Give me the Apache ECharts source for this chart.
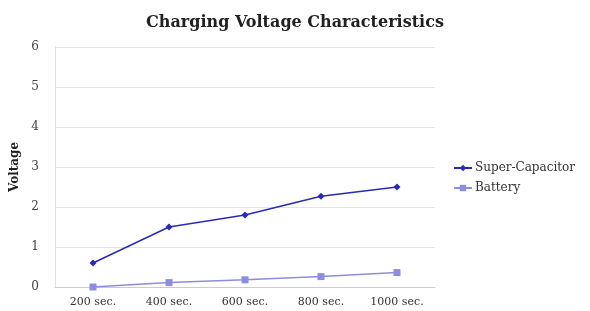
<!DOCTYPE html>
<html>
<head>
<meta charset="utf-8">
<script src="https://cdn.jsdelivr.net/npm/echarts@6/dist/echarts.min.js"></script>
<style>
html, body { margin: 0; padding: 0; background: #fff; }
#main { width: 590px; height: 311px; }
</style>
</head>
<body>
<div id="main"></div>
<script>
// categories and values
var categories = ['200 sec.', '400 sec.', '600 sec.', '800 sec.', '1000 sec.'];
var superCap = [0.6, 1.5, 1.8, 2.27, 2.5];
var battery = [0, 0.11, 0.18, 0.26, 0.36];
var yTicks = [0, 1, 2, 3, 4, 5, 6];

var serif = '"DejaVu Serif", "Liberation Serif", serif';

var chart = echarts.init(document.getElementById('main'));
chart.setOption({
    animation: false,
    title: {
        text: 'Charging Voltage Characteristics',
        left: 'center',
        top: 10,
        textStyle: { fontFamily: serif, fontSize: 16, fontWeight: 'bold', color: '#222' }
    },
    legend: {
        orient: 'vertical',
        left: 448,
        top: 157,
        itemGap: 8,
        itemWidth: 18,
        itemHeight: 8,
        itemGap: 8,
        textStyle: { fontFamily: serif, fontSize: 12, color: '#333', padding: [0, 0, 0, -2] },
        data: ['Super-Capacitor', 'Battery']
    },
    grid: { left: 55, right: 155, top: 47, bottom: 24 },
    xAxis: {
        type: 'category',
        data: categories,
        axisLine: { lineStyle: { color: '#ccc' } },
        axisTick: { show: false },
        axisLabel: { fontFamily: serif, fontSize: 11, color: '#333', margin: 10 }
    },
    yAxis: {
        type: 'value',
        min: yTicks[0],
        max: yTicks[yTicks.length - 1],
        interval: 1,
        name: 'Voltage',
        nameLocation: 'middle',
        nameGap: 34,
        nameTextStyle: { fontFamily: serif, fontSize: 12, fontWeight: 'bold', color: '#222' },
        axisLine: { show: true, lineStyle: { color: '#ddd' } },
        axisTick: { show: false },
        splitLine: { lineStyle: { color: '#e4e4e4' } },
        axisLabel: { fontFamily: serif, fontSize: 12, color: '#444', margin: 16 }
    },
    series: [{
        name: 'Super-Capacitor',
        type: 'line',
        data: superCap,
        symbol: 'diamond',
        symbolSize: 7,
        lineStyle: { color: '#2a2ab8', width: 1.5 },
        itemStyle: { color: '#2a2ab8' }
    }, {
        name: 'Battery',
        type: 'line',
        data: battery,
        symbol: 'rect',
        symbolSize: 7,
        lineStyle: { color: '#8c8ce0', width: 1.5 },
        itemStyle: { color: '#8c8ce0' }
    }]
});
</script>
</body>
</html>
